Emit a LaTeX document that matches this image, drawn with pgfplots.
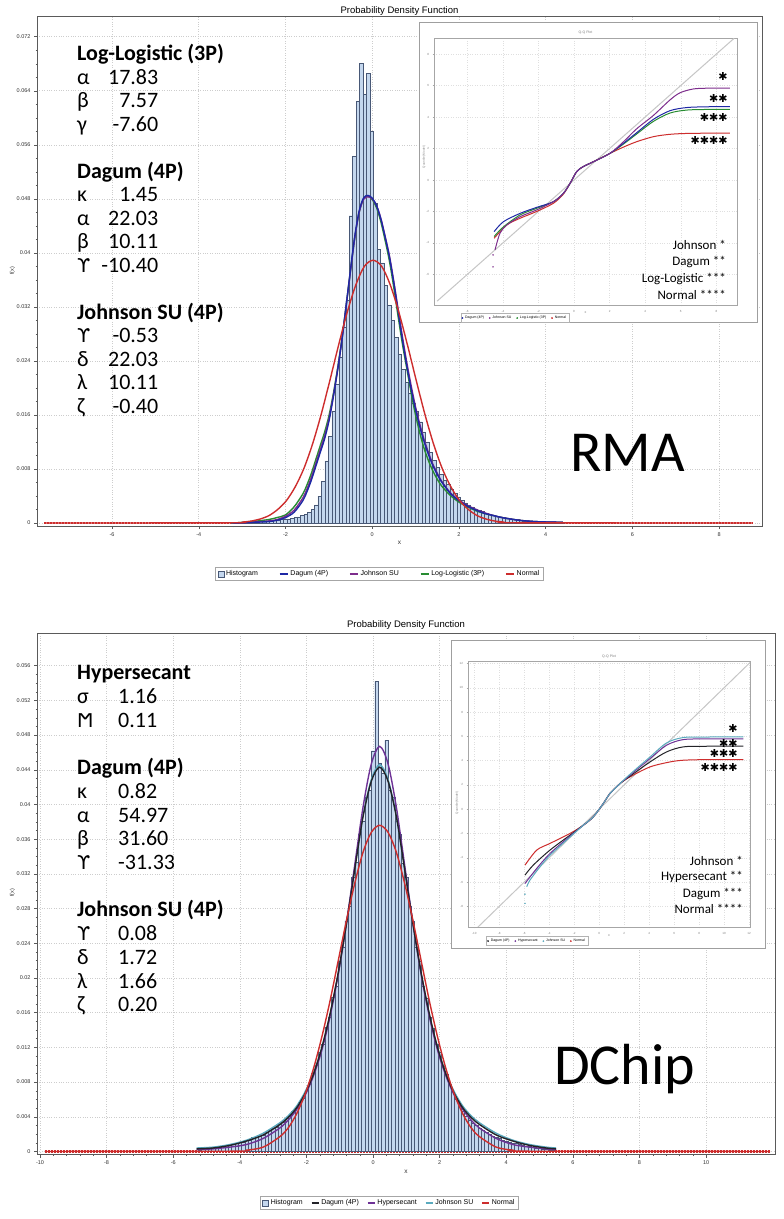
\documentclass[border=0pt]{standalone}
\usepackage{fontspec}
\setmainfont{Carlito}
\newfontfamily\arial{Liberation Sans}
\newfontfamily\dejavu{DejaVu Sans}
\usepackage{pgfplots}
\pgfplotsset{compat=1.18}

\definecolor{histfill}{RGB}{196,215,238}
\definecolor{histedge}{RGB}{72,88,118}
\definecolor{dagumblue}{RGB}{30,40,165}
\definecolor{johnpurple}{RGB}{125,45,140}
\definecolor{llgreen}{RGB}{40,140,50}
\definecolor{normred}{RGB}{205,45,45}
\definecolor{dagumblack}{RGB}{35,35,40}
\definecolor{hyperpurple}{RGB}{110,50,150}
\definecolor{johnteal}{RGB}{90,170,190}
\definecolor{axisgray}{RGB}{90,90,90}
\definecolor{gridgray}{RGB}{205,205,205}

\newcommand\tickf{\arial\fontsize{5.5}{6.5}\selectfont}
\newcommand\bigf{\fontsize{22}{24}\selectfont}
\newcommand\insf{\fontsize{13}{15}\selectfont}

\pgfplotsset{
  mainax/.style={
    scale only axis, anchor=south west, clip=true,
    axis line style={axisgray,line width=0.6pt},
    every tick/.style={axisgray,line width=0.4pt},
    tick align=outside, tick pos=left,
    major tick length=3pt, minor tick length=1.5pt,
    minor x tick num=4, minor y tick num=3,
    xmajorgrids, ymajorgrids,
    major grid style={gridgray,dotted,line width=0.5pt},
    tick label style={font=\tickf, text=black!80},
    scaled y ticks=false, scaled x ticks=false,
    legend style={font=\arial\fontsize{7}{8}\selectfont, draw=gray!70, line width=0.4pt,
      inner xsep=2pt, inner ysep=1pt, anchor=center, legend columns=5},
    legend cell align=left,
  },
  insetax/.style={
    scale only axis, anchor=south west, clip=true,
    axis line style={gray!70,line width=0.4pt},
    every tick/.style={gray!70,line width=0.3pt},
    tick align=outside, tick pos=left, major tick length=1.5pt,
    xmajorgrids, ymajorgrids,
    major grid style={gray!25,dotted,line width=0.3pt},
    tick label style={font=\arial\fontsize{3}{3.5}\selectfont, text=gray},
    /pgf/number format/assume math mode=true,
    legend style={font=\arial\fontsize{3.5}{4}\selectfont, draw=gray!60, line width=0.3pt,
      inner xsep=1pt, inner ysep=0.5pt, anchor=center, legend columns=4,
      /tikz/every even column/.append style={column sep=3pt}},
  },
}

\begin{document}
\begin{tikzpicture}[x=1pt,y=1pt]
\useasboundingbox (0,0) rectangle (784,1219);

%================ TOP MAIN AXIS (RMA) =================
\begin{axis}[mainax, at={(37pt,693pt)}, width=725pt, height=509.3pt,
  xmin=-7.73, xmax=8.99, ymin=-0.00044, ymax=0.07496,
  xtick={-6,-4,-2,0,2,4,6,8}, xticklabels={-6,-4,-2,0,2,4,6,8},
  ytick={0,0.008,0.016,0.024,0.032,0.04,0.048,0.056,0.064,0.072},
  yticklabels={0,0.008,0.016,0.024,0.032,0.04,0.048,0.056,0.064,0.072},
  legend style={at={(0.4724,-0.0939)}, /tikz/every even column/.append style={column sep=19pt}},
]
\addplot[normred, line width=2.2pt, dash pattern=on 2pt off 1pt, forget plot] coordinates {(-7.56,0) (8.78,0)};
\addplot[ybar interval, fill=histfill, draw=histedge, line width=0.35pt, forget plot] coordinates {
(-3.25,0.0001) (-3.17,0.0001) (-3.09,0.0001) (-3.01,0.0001) (-2.93,0.0001) (-2.85,0.0001)
(-2.77,0.0002) (-2.69,0.0002) (-2.61,0.0002) (-2.53,0.0003) (-2.45,0.0003) (-2.37,0.0003)
(-2.29,0.0004) (-2.21,0.0004) (-2.13,0.0005) (-2.05,0.0006) (-1.97,0.0006) (-1.89,0.0007)
(-1.81,0.0008) (-1.73,0.0009) (-1.65,0.0011) (-1.57,0.0013) (-1.49,0.0016) (-1.41,0.0020)
(-1.33,0.0027) (-1.25,0.0040) (-1.17,0.0062) (-1.09,0.0092) (-1.01,0.0128) (-0.93,0.0165)
(-0.85,0.0205) (-0.77,0.0246) (-0.69,0.0290) (-0.61,0.0330) (-0.53,0.0455) (-0.45,0.0543)
(-0.37,0.0624) (-0.29,0.0681) (-0.21,0.0635) (-0.13,0.0666) (-0.05,0.0580) (0.03,0.0474)
(0.11,0.0405) (0.19,0.0385) (0.27,0.0352) (0.35,0.0322) (0.43,0.0300) (0.51,0.0275)
(0.59,0.0250) (0.67,0.0228) (0.75,0.0208) (0.83,0.0192) (0.91,0.0178) (0.99,0.0165)
(1.07,0.0150) (1.15,0.0135) (1.23,0.0120) (1.31,0.0105) (1.39,0.0093) (1.47,0.0082)
(1.55,0.0072) (1.63,0.0064) (1.71,0.0057) (1.79,0.0050) (1.87,0.0044) (1.95,0.0039)
(2.03,0.0034) (2.11,0.0030) (2.19,0.0027) (2.27,0.0024) (2.35,0.0021) (2.43,0.0019)
(2.51,0.0017) (2.59,0.0015) (2.67,0.0013) (2.75,0.0012) (2.83,0.0010) (2.91,0.0009)
(2.99,0.0008) (3.07,0.0007) (3.15,0.0006) (3.23,0.0005) (3.31,0.0005) (3.39,0.0004)
(3.47,0.0003) (3.55,0.0003) (3.63,0.0002) (3.71,0.0002) (3.79,0.0002) (3.87,0.0001)
(3.95,0.0001) (4.03,0.0001) (4.11,0.0001) (4.19,0.0001) (4.27,0.0001) (4.35,0.0001) (4.43,0)
};
% Log-Logistic (3P)
\addplot[llgreen, line width=1.4pt, smooth, forget plot] coordinates {
(-3.2,0) (-2.8,0.0002) (-2.4,0.0005) (-2.2,0.0008) (-2.0,0.0012) (-1.8,0.0024) (-1.6,0.0043)
(-1.5,0.0057) (-1.4,0.0074) (-1.3,0.0094) (-1.2,0.0114) (-1.1,0.0134) (-1.0,0.0158)
(-0.9,0.0190) (-0.8,0.0228) (-0.7,0.0272) (-0.6,0.0322) (-0.5,0.0374) (-0.4,0.0423)
(-0.3,0.0460) (-0.2,0.0480) (-0.1,0.0484) (0.0,0.0479) (0.1,0.0467) (0.2,0.0446)
(0.3,0.0418) (0.4,0.0387) (0.5,0.0348) (0.6,0.0305) (0.7,0.0264) (0.8,0.0228)
(0.9,0.0192) (1.0,0.0160) (1.1,0.0133) (1.2,0.0110) (1.3,0.0092) (1.4,0.0077)
(1.5,0.0065) (1.6,0.0055) (1.8,0.0041) (2.0,0.0031) (2.2,0.0024) (2.4,0.0018)
(2.6,0.0014) (2.8,0.0011) (3.0,0.0008) (3.4,0.0004) (3.8,0.0002) (4.4,0.0001)
};
% Johnson SU
\addplot[johnpurple, line width=1.4pt, smooth, forget plot] coordinates {
(-3.2,0) (-2.8,0.0001) (-2.4,0.0003) (-2.2,0.0005) (-2.0,0.0010) (-1.8,0.0019) (-1.6,0.0037)
(-1.5,0.0051) (-1.4,0.0068) (-1.3,0.0088) (-1.2,0.0108) (-1.1,0.0128) (-1.0,0.0153)
(-0.9,0.0187) (-0.8,0.0226) (-0.7,0.0270) (-0.6,0.0321) (-0.5,0.0373) (-0.4,0.0423)
(-0.3,0.0460) (-0.2,0.0479) (-0.1,0.0483) (0.0,0.0480) (0.1,0.0470) (0.2,0.0451)
(0.3,0.0424) (0.4,0.0395) (0.5,0.0357) (0.6,0.0316) (0.7,0.0275) (0.8,0.0237)
(0.9,0.0203) (1.0,0.0172) (1.1,0.0146) (1.2,0.0123) (1.3,0.0104) (1.4,0.0087)
(1.5,0.0074) (1.6,0.0062) (1.8,0.0045) (2.0,0.0034) (2.2,0.0026) (2.4,0.0020)
(2.6,0.0015) (2.8,0.0011) (3.0,0.0008) (3.4,0.0004) (3.8,0.0002) (4.4,0.0001)
};
% Dagum (4P)
\addplot[dagumblue, line width=1.4pt, smooth, forget plot] coordinates {
(-3.2,0) (-2.8,0.0001) (-2.4,0.0002) (-2.2,0.0004) (-2.0,0.0008) (-1.8,0.0016) (-1.6,0.0033)
(-1.5,0.0047) (-1.4,0.0064) (-1.3,0.0084) (-1.2,0.0104) (-1.1,0.0124) (-1.0,0.0150)
(-0.9,0.0185) (-0.8,0.0225) (-0.7,0.0270) (-0.6,0.0322) (-0.5,0.0375) (-0.4,0.0425)
(-0.3,0.0462) (-0.2,0.0481) (-0.1,0.0485) (0.0,0.0481) (0.1,0.0470) (0.2,0.0450)
(0.3,0.0423) (0.4,0.0393) (0.5,0.0355) (0.6,0.0312) (0.7,0.0270) (0.8,0.0232)
(0.9,0.0198) (1.0,0.0168) (1.1,0.0142) (1.2,0.0120) (1.3,0.0101) (1.4,0.0085)
(1.5,0.0072) (1.6,0.0061) (1.8,0.0044) (2.0,0.0033) (2.2,0.0025) (2.4,0.0019)
(2.6,0.0014) (2.8,0.0011) (3.0,0.0008) (3.4,0.0004) (3.8,0.0002) (4.4,0.0001)
};
% Normal
\addplot[normred, line width=1.4pt, smooth, forget plot] coordinates {
(-7.56,0) (-3.38,0.00003) (-2.98,0.00015) (-2.78,0.0003) (-2.58,0.0006) (-2.38,0.0011)
(-2.18,0.0020) (-1.98,0.0033) (-1.78,0.0053) (-1.58,0.0080) (-1.38,0.0116) (-1.18,0.0160)
(-0.98,0.0210) (-0.78,0.0262) (-0.58,0.0311) (-0.38,0.0352) (-0.18,0.0380) (0.02,0.0389)
(0.22,0.0380) (0.42,0.0352) (0.62,0.0311) (0.82,0.0262) (1.02,0.0210) (1.22,0.0160)
(1.42,0.0116) (1.62,0.0080) (1.82,0.0053) (2.02,0.0033) (2.22,0.0020) (2.42,0.0011)
(2.62,0.0006) (2.82,0.0003) (3.02,0.00015) (3.42,0.00003) (8.78,0)
};
\addlegendimage{legend image code/.code={\draw[fill=histfill,draw=histedge,line width=0.4pt] (0pt,-3pt) rectangle (6pt,3pt);}}
\addlegendentry{Histogram}
\addlegendimage{legend image code/.code={\draw[dagumblue,line width=1.5pt] (0pt,0pt) -- (8pt,0pt);}}
\addlegendentry{Dagum (4P)}
\addlegendimage{legend image code/.code={\draw[johnpurple,line width=1.5pt] (0pt,0pt) -- (8pt,0pt);}}
\addlegendentry{Johnson SU}
\addlegendimage{legend image code/.code={\draw[llgreen,line width=1.5pt] (0pt,0pt) -- (8pt,0pt);}}
\addlegendentry{Log-Logistic (3P)}
\addlegendimage{legend image code/.code={\draw[normred,line width=1.5pt] (0pt,0pt) -- (8pt,0pt);}}
\addlegendentry{Normal}
\end{axis}

%================ BOTTOM MAIN AXIS (DChip) =================
\begin{axis}[mainax, at={(37pt,64.5pt)}, width=738pt, height=521.5pt,
  xmin=-10.09, xmax=12.07, ymin=-0.00035, ymax=0.05977,
  xtick={-10,-8,-6,-4,-2,0,2,4,6,8,10}, xticklabels={-10,-8,-6,-4,-2,0,2,4,6,8,10},
  ytick={0,0.004,0.008,0.012,0.016,0.02,0.024,0.028,0.032,0.036,0.04,0.044,0.048,0.052,0.056},
  yticklabels={0,0.004,0.008,0.012,0.016,0.02,0.024,0.028,0.032,0.036,0.04,0.044,0.048,0.052,0.056},
  legend style={at={(0.4776,-0.0926)}, /tikz/every even column/.append style={column sep=6pt}},
]
\addplot[normred, line width=2.2pt, dash pattern=on 2pt off 1pt, forget plot] coordinates {(-9.85,0) (11.92,0)};
\addplot[ybar interval, fill=histfill, draw=histedge, line width=0.35pt, forget plot] coordinates {
(-5.25,0.0002) (-5.15,0.0003) (-5.05,0.0003) (-4.95,0.0004) (-4.85,0.0004) (-4.75,0.0005)
(-4.65,0.0005) (-4.55,0.0006) (-4.45,0.0007) (-4.35,0.0007) (-4.25,0.0008) (-4.15,0.0009)
(-4.05,0.0011) (-3.95,0.0011) (-3.85,0.0013) (-3.75,0.0013) (-3.65,0.0016) (-3.55,0.0016)
(-3.45,0.0018) (-3.35,0.0019) (-3.25,0.0022) (-3.15,0.0024) (-3.05,0.0027) (-2.95,0.0028)
(-2.85,0.0032) (-2.75,0.0034) (-2.65,0.0038) (-2.55,0.0041) (-2.45,0.0046) (-2.35,0.0050)
(-2.25,0.0057) (-2.15,0.0061) (-2.05,0.0071) (-1.95,0.0078) (-1.85,0.0090) (-1.75,0.0099)
(-1.65,0.0115) (-1.55,0.0124) (-1.45,0.0143) (-1.35,0.0155) (-1.25,0.0178) (-1.15,0.0191)
(-1.05,0.0219) (-0.95,0.0236) (-0.85,0.0266) (-0.75,0.0283) (-0.65,0.0316) (-0.55,0.0333)
(-0.45,0.0366) (-0.35,0.0381) (-0.25,0.0409) (-0.15,0.0416) (-0.05,0.0462) (0.05,0.0542)
(0.15,0.0448) (0.25,0.0436) (0.35,0.0474) (0.45,0.0416) (0.55,0.0409) (0.65,0.0381)
(0.75,0.0366) (0.85,0.0332) (0.95,0.0316) (1.05,0.0283) (1.15,0.0265) (1.25,0.0236)
(1.35,0.0219) (1.45,0.0191) (1.55,0.0177) (1.65,0.0155) (1.75,0.0142) (1.85,0.0124)
(1.95,0.0114) (2.05,0.0098) (2.15,0.0089) (2.25,0.0077) (2.35,0.0070) (2.45,0.0060)
(2.55,0.0054) (2.65,0.0046) (2.75,0.0041) (2.85,0.0036) (2.95,0.0033) (3.05,0.0030)
(3.15,0.0027) (3.25,0.0025) (3.35,0.0022) (3.45,0.0020) (3.55,0.0018) (3.65,0.0016)
(3.75,0.0015) (3.85,0.0013) (3.95,0.0012) (4.05,0.0011) (4.15,0.0010) (4.25,0.0009)
(4.35,0.0008) (4.45,0.0007) (4.55,0.0006) (4.65,0.0006) (4.75,0.0005) (4.85,0.0004)
(4.95,0.0004) (5.05,0.0003) (5.15,0.0003) (5.25,0.0002) (5.35,0.0002) (5.45,0)
};
% Johnson SU
\addplot[johnteal, line width=1.4pt, smooth, forget plot] coordinates {
(-5.3,0.0004) (-4.8,0.0005) (-4.3,0.0008) (-3.8,0.0013) (-3.3,0.0021) (-2.8,0.0033) (-2.55,0.0041)
(-2.3,0.0052) (-2.05,0.0068) (-1.8,0.0089) (-1.55,0.0118) (-1.3,0.0156) (-1.05,0.0204)
(-0.8,0.0262) (-0.55,0.0326) (-0.3,0.0387) (-0.05,0.0429) (0.2,0.0446) (0.45,0.0429)
(0.7,0.0387) (0.95,0.0326) (1.2,0.0262) (1.45,0.0204) (1.7,0.0156) (1.95,0.0118)
(2.2,0.0089) (2.45,0.0068) (2.7,0.0052) (2.95,0.0041) (3.2,0.0033) (3.7,0.0021)
(4.2,0.0013) (4.7,0.0008) (5.2,0.0005) (5.5,0.0004)
};
% Hypersecant
\addplot[hyperpurple, line width=1.4pt, smooth, forget plot] coordinates {
(-5.3,0.0002) (-4.8,0.0003) (-4.3,0.0005) (-3.8,0.0008) (-3.3,0.0015) (-2.8,0.0027) (-2.55,0.0036)
(-2.3,0.0048) (-2.05,0.0064) (-1.8,0.0086) (-1.55,0.0115) (-1.3,0.0154) (-1.05,0.0203)
(-0.8,0.0263) (-0.55,0.0330) (-0.3,0.0397) (-0.05,0.0447) (0.2,0.0467) (0.45,0.0447)
(0.7,0.0397) (0.95,0.0330) (1.2,0.0263) (1.45,0.0203) (1.7,0.0154) (1.95,0.0115)
(2.2,0.0086) (2.45,0.0064) (2.7,0.0048) (2.95,0.0036) (3.2,0.0027) (3.7,0.0015)
(4.2,0.0008) (4.7,0.0005) (5.2,0.0003) (5.5,0.0002)
};
% Dagum (4P)
\addplot[dagumblack, line width=1.4pt, smooth, forget plot] coordinates {
(-5.3,0.0003) (-4.8,0.0004) (-4.3,0.0007) (-3.8,0.0012) (-3.3,0.0019) (-2.8,0.0031) (-2.55,0.0039)
(-2.3,0.0050) (-2.05,0.0066) (-1.8,0.0088) (-1.55,0.0118) (-1.3,0.0157) (-1.05,0.0205)
(-0.8,0.0262) (-0.55,0.0325) (-0.3,0.0386) (-0.05,0.0427) (0.2,0.0443) (0.45,0.0427)
(0.7,0.0386) (0.95,0.0325) (1.2,0.0262) (1.45,0.0205) (1.7,0.0157) (1.95,0.0118)
(2.2,0.0088) (2.45,0.0066) (2.7,0.0050) (2.95,0.0039) (3.2,0.0031) (3.7,0.0019)
(4.2,0.0012) (4.7,0.0007) (5.2,0.0004) (5.5,0.0003)
};
% Normal
\addplot[normred, line width=1.4pt, smooth, forget plot] coordinates {
(-9.85,0) (-4.3,0.00003) (-3.8,0.00015) (-3.3,0.0005) (-2.8,0.0017) (-2.55,0.0027) (-2.3,0.0043)
(-2.05,0.0065) (-1.8,0.0094) (-1.55,0.0130) (-1.3,0.0172) (-1.05,0.0219) (-0.8,0.0266)
(-0.55,0.0309) (-0.3,0.0345) (-0.05,0.0368) (0.2,0.0376) (0.45,0.0368) (0.7,0.0345)
(0.95,0.0309) (1.2,0.0266) (1.45,0.0219) (1.7,0.0172) (1.95,0.0130) (2.2,0.0094)
(2.45,0.0065) (2.7,0.0043) (2.95,0.0027) (3.2,0.0017) (3.7,0.0005) (4.2,0.00015)
(4.7,0.00003) (11.92,0)
};
\addlegendimage{legend image code/.code={\draw[fill=histfill,draw=histedge,line width=0.4pt] (0pt,-3pt) rectangle (6pt,3pt);}}
\addlegendentry{Histogram}
\addlegendimage{legend image code/.code={\draw[dagumblack,line width=1.5pt] (0pt,0pt) -- (7pt,0pt);}}
\addlegendentry{Dagum (4P)}
\addlegendimage{legend image code/.code={\draw[hyperpurple,line width=1.5pt] (0pt,0pt) -- (7pt,0pt);}}
\addlegendentry{Hypersecant}
\addlegendimage{legend image code/.code={\draw[johnteal,line width=1.5pt] (0pt,0pt) -- (7pt,0pt);}}
\addlegendentry{Johnson SU}
\addlegendimage{legend image code/.code={\draw[normred,line width=1.5pt] (0pt,0pt) -- (7pt,0pt);}}
\addlegendentry{Normal}
\end{axis}

%================ titles / axis labels =================
\node[font=\arial\fontsize{9.5}{11}\selectfont, anchor=base] at (399.5,1205.7) {Probability Density Function};
\node[font=\arial\fontsize{9.5}{11}\selectfont, anchor=base] at (406,591) {Probability Density Function};
\node[font=\arial\fontsize{6.5}{7}\selectfont, text=black!80] at (399.5,676.3) {x};
\node[font=\arial\fontsize{6.5}{7}\selectfont, text=black!80] at (406,47.3) {x};
\node[font=\arial\fontsize{5.5}{6}\selectfont, text=black!80, rotate=90] at (12.5,948) {f(x)};
\node[font=\arial\fontsize{5.5}{6}\selectfont, text=black!80, rotate=90] at (12.5,326) {f(x)};

%================ TOP INSET =================
\filldraw[fill=white, draw=gray!75, line width=0.5pt] (419,897) rectangle (757,1197);
\begin{axis}[insetax, at={(434pt,914pt)}, width=303pt, height=266.7pt,
  xmin=-7.87, xmax=9.16, ymin=-7.94, ymax=9.0,
  xtick={-6,-4,-2,0,2,4,6,8}, ytick={-6,-4,-2,0,2,4,6,8},
  legend style={at={(0.267,-0.049)}},
]
\addplot[gray!45, line width=1pt, forget plot] coordinates {(-7.7,-7.7) (9.0,9.0)};
\addplot[normred, line width=1pt, smooth, forget plot] coordinates {
(-4.49,-3.7) (-3.78,-2.86) (-3.03,-2.43) (-2.1,-2.0) (-1.16,-1.48) (-0.6,-0.9) (-0.22,-0.21)
(0.15,0.53) (0.52,0.85) (1.09,1.16) (2.02,1.69) (2.8,2.1) (3.52,2.43) (4.46,2.75) (5.39,2.9) (6.5,2.96) (8.76,2.98)};
\addplot[llgreen, line width=1pt, smooth, forget plot] coordinates {
(-4.49,-3.59) (-3.97,-2.98) (-3.03,-2.22) (-2.1,-1.8) (-1.16,-1.38) (-0.6,-0.85) (-0.22,-0.21)
(0.15,0.53) (0.52,0.85) (1.09,1.16) (2.02,1.69) (2.8,2.3) (3.52,2.92) (4.46,3.72) (5.39,4.25) (6.33,4.44) (7.5,4.48) (8.76,4.49)};
\addplot[dagumblue, line width=1pt, smooth, forget plot] coordinates {
(-4.49,-3.28) (-3.97,-2.65) (-3.03,-2.12) (-2.1,-1.74) (-1.16,-1.38) (-0.6,-0.85) (-0.22,-0.21)
(0.15,0.53) (0.52,0.85) (1.09,1.16) (2.02,1.69) (2.8,2.35) (3.52,3.0) (4.46,3.85) (5.39,4.4) (6.33,4.6) (7.5,4.65) (8.76,4.66)};
\addplot[johnpurple, line width=1pt, smooth, forget plot] coordinates {
(-4.44,-4.44) (-4.16,-3.38) (-3.78,-2.86) (-3.03,-2.33) (-2.1,-1.9) (-1.16,-1.38) (-0.6,-0.85) (-0.22,-0.21)
(0.15,0.53) (0.52,0.85) (1.09,1.16) (2.02,1.69) (2.8,2.45) (3.52,3.25) (4.46,4.1) (5.39,5.08) (5.96,5.54) (6.7,5.78) (7.5,5.83) (8.76,5.84)};
\addplot[johnpurple, only marks, mark=*, mark size=0.5pt, forget plot] coordinates {(-4.55,-4.76) (-4.55,-5.52)};
\addlegendimage{only marks, mark=*, mark size=0.7pt, dagumblue}
\addlegendentry{Dagum (4P)}
\addlegendimage{only marks, mark=*, mark size=0.7pt, johnpurple}
\addlegendentry{Johnson SU}
\addlegendimage{only marks, mark=*, mark size=0.7pt, llgreen}
\addlegendentry{Log-Logistic (3P)}
\addlegendimage{only marks, mark=*, mark size=0.7pt, normred}
\addlegendentry{Normal}
\end{axis}
\node[font=\arial\fontsize{3.5}{4}\selectfont, text=gray] at (585.5,1186) {Q-Q Plot};
\node[font=\arial\fontsize{3}{3.5}\selectfont, text=gray, rotate=90] at (424,1062) {Quantile (Model)};
\node[font=\arial\fontsize{3.5}{4}\selectfont, text=gray] at (585.5,906) {x};
\node[font=\dejavu\fontsize{11}{12}\selectfont, anchor=east] at (731,1142) {✱};
\node[font=\dejavu\fontsize{11}{12}\selectfont, anchor=east] at (731,1120) {✱✱};
\node[font=\dejavu\fontsize{11}{12}\selectfont, anchor=east] at (731,1101) {✱✱✱};
\node[font=\dejavu\fontsize{11}{12}\selectfont, anchor=east] at (731,1078) {✱✱✱✱};
\node[font=\insf, anchor=base east, inner sep=0pt] at (726,969.5) {Johnson *};
\node[font=\insf, anchor=base east, inner sep=0pt] at (726,953.5) {Dagum **};
\node[font=\insf, anchor=base east, inner sep=0pt] at (726,936.5) {Log-Logistic ***};
\node[font=\insf, anchor=base east, inner sep=0pt] at (726,919.5) {Normal ****};

%================ BOTTOM INSET =================
\filldraw[fill=white, draw=gray!75, line width=0.5pt] (451,271) rectangle (765,579);
\begin{axis}[insetax, at={(468pt,292pt)}, width=282pt, height=266pt,
  xmin=-10.5, xmax=12.07, ymin=-9.7, ymax=12.2,
  xtick={-10,-8,-6,-4,-2,0,2,4,6,8,10,12}, ytick={-8,-6,-4,-2,0,2,4,6,8,10,12},
  legend style={at={(0.245,-0.053)}},
]
\addplot[gray!45, line width=1pt, forget plot] coordinates {(-10.5,-10.5) (12.2,12.2)};
\addplot[normred, line width=1pt, smooth, forget plot] coordinates {
(-5.94,-4.61) (-5.0,-3.37) (-3.94,-2.82) (-2.34,-2.0) (-1.27,-1.32) (-0.47,-0.63) (0.33,0.47)
(0.86,1.29) (1.67,2.11) (2.47,2.66) (4.07,3.48) (5.67,3.89) (6.73,4.03) (8.5,4.08) (11.54,4.09)};
\addplot[dagumblack, line width=1pt, smooth, forget plot] coordinates {
(-5.94,-5.43) (-5.28,-4.61) (-3.94,-3.37) (-2.34,-2.14) (-1.27,-1.32) (-0.47,-0.63) (0.33,0.47)
(0.86,1.29) (1.67,2.11) (2.47,2.72) (4.07,3.89) (5.4,4.72) (6.73,5.13) (8.5,5.18) (11.54,5.19)};
\addplot[hyperpurple, line width=1pt, smooth, forget plot] coordinates {
(-5.94,-6.12) (-5.0,-4.88) (-3.94,-3.65) (-2.34,-2.22) (-1.27,-1.32) (-0.47,-0.63) (0.33,0.47)
(0.86,1.29) (1.67,2.11) (2.47,2.8) (4.07,4.17) (5.4,5.27) (6.73,5.73) (8.5,5.78) (11.54,5.79)};
\addplot[johnteal, line width=1pt, smooth, forget plot] coordinates {
(-5.8,-6.39) (-5.54,-5.84) (-4.74,-4.75) (-3.94,-3.79) (-2.34,-2.3) (-1.27,-1.32) (-0.47,-0.63) (0.33,0.47)
(0.86,1.29) (1.67,2.11) (2.47,2.88) (4.07,4.3) (5.4,5.46) (6.73,5.9) (8.5,5.94) (11.54,5.95)};
\addplot[johnteal, only marks, mark=*, mark size=0.5pt, forget plot] coordinates {(-5.94,-7.0) (-5.94,-7.76)};
\addlegendimage{only marks, mark=*, mark size=0.7pt, dagumblack}
\addlegendentry{Dagum (4P)}
\addlegendimage{only marks, mark=*, mark size=0.7pt, hyperpurple}
\addlegendentry{Hypersecant}
\addlegendimage{only marks, mark=*, mark size=0.7pt, johnteal}
\addlegendentry{Johnson SU}
\addlegendimage{only marks, mark=*, mark size=0.7pt, normred}
\addlegendentry{Normal}
\end{axis}
\node[font=\arial\fontsize{3.5}{4}\selectfont, text=gray] at (609,562) {Q-Q Plot};
\node[font=\arial\fontsize{3}{3.5}\selectfont, text=gray, rotate=90] at (457,416) {Quantile (Model)};
\node[font=\arial\fontsize{3.5}{4}\selectfont, text=gray] at (609,283) {x};
\node[font=\dejavu\fontsize{11}{12}\selectfont, anchor=east] at (741,491) {✱};
\node[font=\dejavu\fontsize{11}{12}\selectfont, anchor=east] at (741,476) {✱✱};
\node[font=\dejavu\fontsize{11}{12}\selectfont, anchor=east] at (741,466) {✱✱✱};
\node[font=\dejavu\fontsize{11}{12}\selectfont, anchor=east] at (741,452) {✱✱✱✱};
\node[font=\insf, anchor=base east, inner sep=0pt] at (743,353) {Johnson *};
\node[font=\insf, anchor=base east, inner sep=0pt] at (743,338) {Hypersecant **};
\node[font=\insf, anchor=base east, inner sep=0pt] at (743,321) {Dagum ***};
\node[font=\insf, anchor=base east, inner sep=0pt] at (743,305) {Normal ****};

%================ parameter text (top) =================
\begin{scope}[every node/.style={inner sep=0pt, font=\bigf}]
\node[anchor=base west] at (77,1158) {\bfseries Log-Logistic (3P)};
\node[anchor=base west] at (77,1134.5) {α}; \node[anchor=base east] at (158.5,1134.5) {17.83};
\node[anchor=base west] at (77,1111) {β}; \node[anchor=base east] at (158.5,1111) {7.57};
\node[anchor=base west] at (77,1087.5) {γ}; \node[anchor=base east] at (158.5,1087.5) {-7.60};
\node[anchor=base west] at (77,1040.5) {\bfseries Dagum (4P)};
\node[anchor=base west] at (77,1017) {κ}; \node[anchor=base east] at (158.5,1017) {1.45};
\node[anchor=base west] at (77,993.5) {α}; \node[anchor=base east] at (158.5,993.5) {22.03};
\node[anchor=base west] at (77,970) {β}; \node[anchor=base east] at (158.5,970) {10.11};
\node[anchor=base west] at (77,946.5) {{\dejavu\fontsize{19}{22}\selectfont ϒ}}; \node[anchor=base east] at (158.5,946.5) {-10.40};
\node[anchor=base west] at (77,899.5) {\bfseries Johnson SU (4P)};
\node[anchor=base west] at (77,876) {{\dejavu\fontsize{19}{22}\selectfont ϒ}}; \node[anchor=base east] at (158.5,876) {-0.53};
\node[anchor=base west] at (77,852.5) {δ}; \node[anchor=base east] at (158.5,852.5) {22.03};
\node[anchor=base west] at (77,829) {λ}; \node[anchor=base east] at (158.5,829) {10.11};
\node[anchor=base west] at (77,805.5) {ζ}; \node[anchor=base east] at (158.5,805.5) {-0.40};
\node[anchor=base west, font=\fontsize{58}{60}\selectfont] at (570,747) {RMA};
%================ parameter text (bottom) =================
\node[anchor=base west] at (77,539) {\bfseries Hypersecant};
\node[anchor=base west] at (77,515.3) {σ}; \node[anchor=base west] at (118,515.3) {1.16};
\node[anchor=base west] at (77,491.6) {{\dejavu\fontsize{19}{22}\selectfont Ϻ}}; \node[anchor=base west] at (118,491.6) {0.11};
\node[anchor=base west] at (77,444.2) {\bfseries Dagum (4P)};
\node[anchor=base west] at (77,420.5) {κ}; \node[anchor=base west] at (118,420.5) {0.82};
\node[anchor=base west] at (77,396.8) {α}; \node[anchor=base west] at (118,396.8) {54.97};
\node[anchor=base west] at (77,373.1) {β}; \node[anchor=base west] at (118,373.1) {31.60};
\node[anchor=base west] at (77,349.4) {{\dejavu\fontsize{19}{22}\selectfont ϒ}}; \node[anchor=base west] at (118,349.4) {-31.33};
\node[anchor=base west] at (77,302) {\bfseries Johnson SU (4P)};
\node[anchor=base west] at (77,278.3) {{\dejavu\fontsize{19}{22}\selectfont ϒ}}; \node[anchor=base west] at (118,278.3) {0.08};
\node[anchor=base west] at (77,254.6) {δ}; \node[anchor=base west] at (118,254.6) {1.72};
\node[anchor=base west] at (77,230.9) {λ}; \node[anchor=base west] at (118,230.9) {1.66};
\node[anchor=base west] at (77,207.2) {ζ}; \node[anchor=base west] at (118,207.2) {0.20};
\node[anchor=base west, font=\fontsize{58}{60}\selectfont] at (554,134) {DChip};
\end{scope}
\end{tikzpicture}
\end{document}
